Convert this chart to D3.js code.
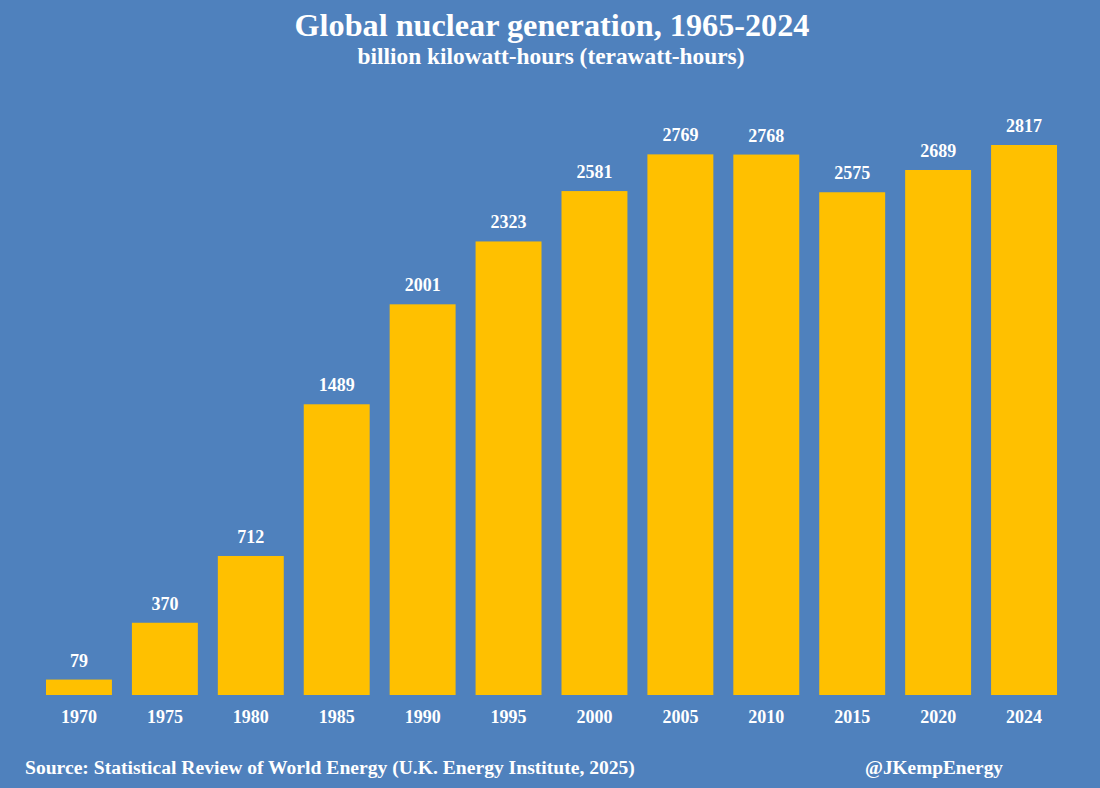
<!DOCTYPE html>
<html>
<head>
<meta charset="utf-8">
<script src="https://cdn.jsdelivr.net/npm/d3@7"></script>
<style>
  html, body { margin: 0; padding: 0; background: #4f81bd; }
  svg { display: block; }
  text { font-family: "Liberation Serif", "Times New Roman", serif; font-weight: bold; fill: #ffffff; }
</style>
</head>
<body>
<script>
const years = ["1970", "1975", "1980", "1985", "1990", "1995", "2000", "2005", "2010", "2015", "2020", "2024"];
const generation = [79, 370, 712, 1489, 2001, 2323, 2581, 2769, 2768, 2575, 2689, 2817];
const titleText = "Global nuclear generation, 1965-2024";
const subtitleText = "billion kilowatt-hours (terawatt-hours)";
const sourceText = "Source: Statistical Review of World Energy (U.K. Energy Institute, 2025)";
const creditText = "@JKempEnergy";

const W = 1100, H = 788;
const svg = d3.select("body").append("svg").attr("width", W).attr("height", H);
svg.append("rect").attr("width", W).attr("height", H).attr("fill", "#4f81bd");

const x = d3.scaleBand().domain(years).range([36, 1067]).paddingInner(20 / 86).paddingOuter(10 / 86);
const y = d3.scaleLinear().domain([0, 2817]).range([695, 145]);

svg.append("g").selectAll("rect").data(generation).join("rect")
  .attr("x", (d, i) => x(years[i]))
  .attr("y", d => y(d))
  .attr("width", x.bandwidth())
  .attr("height", d => y(0) - y(d))
  .attr("fill", "#ffc000");

svg.append("g").selectAll("text").data(generation).join("text")
  .attr("x", (d, i) => x(years[i]) + x.bandwidth() / 2)
  .attr("y", d => y(d) - 13)
  .attr("text-anchor", "middle")
  .style("font-size", "18px")
  .text(d => d);

const xAxis = svg.append("g").attr("transform", "translate(0,695)")
  .call(d3.axisBottom(x).tickSize(0).tickPadding(0));
xAxis.select(".domain").remove();
xAxis.selectAll("text")
  .attr("y", 28).attr("dy", null)
  .style("font-size", "18px")
  .style("font-family", "'Liberation Serif', serif")
  .style("font-weight", "bold")
  .attr("fill", "#ffffff");

function fitText(sel, targetWidth) {
  const w = sel.node().getComputedTextLength();
  const fs = parseFloat(sel.style("font-size"));
  sel.style("font-size", (fs * targetWidth / w).toFixed(2) + "px");
}

const title = svg.append("text").attr("x", 552).attr("y", 36).attr("text-anchor", "middle")
  .style("font-size", "28px").text(titleText);
fitText(title, 515);
const sub = svg.append("text").attr("x", 551).attr("y", 64).attr("text-anchor", "middle")
  .style("font-size", "20px").text(subtitleText);
fitText(sub, 387);

const src = svg.append("text").attr("x", 25).attr("y", 774).style("font-size", "17px").text(sourceText);
fitText(src, 610);
const cr = svg.append("text").attr("x", 934).attr("y", 774).attr("text-anchor", "middle").style("font-size", "17px").text(creditText);
fitText(cr, 138);
</script>
</body>
</html>
